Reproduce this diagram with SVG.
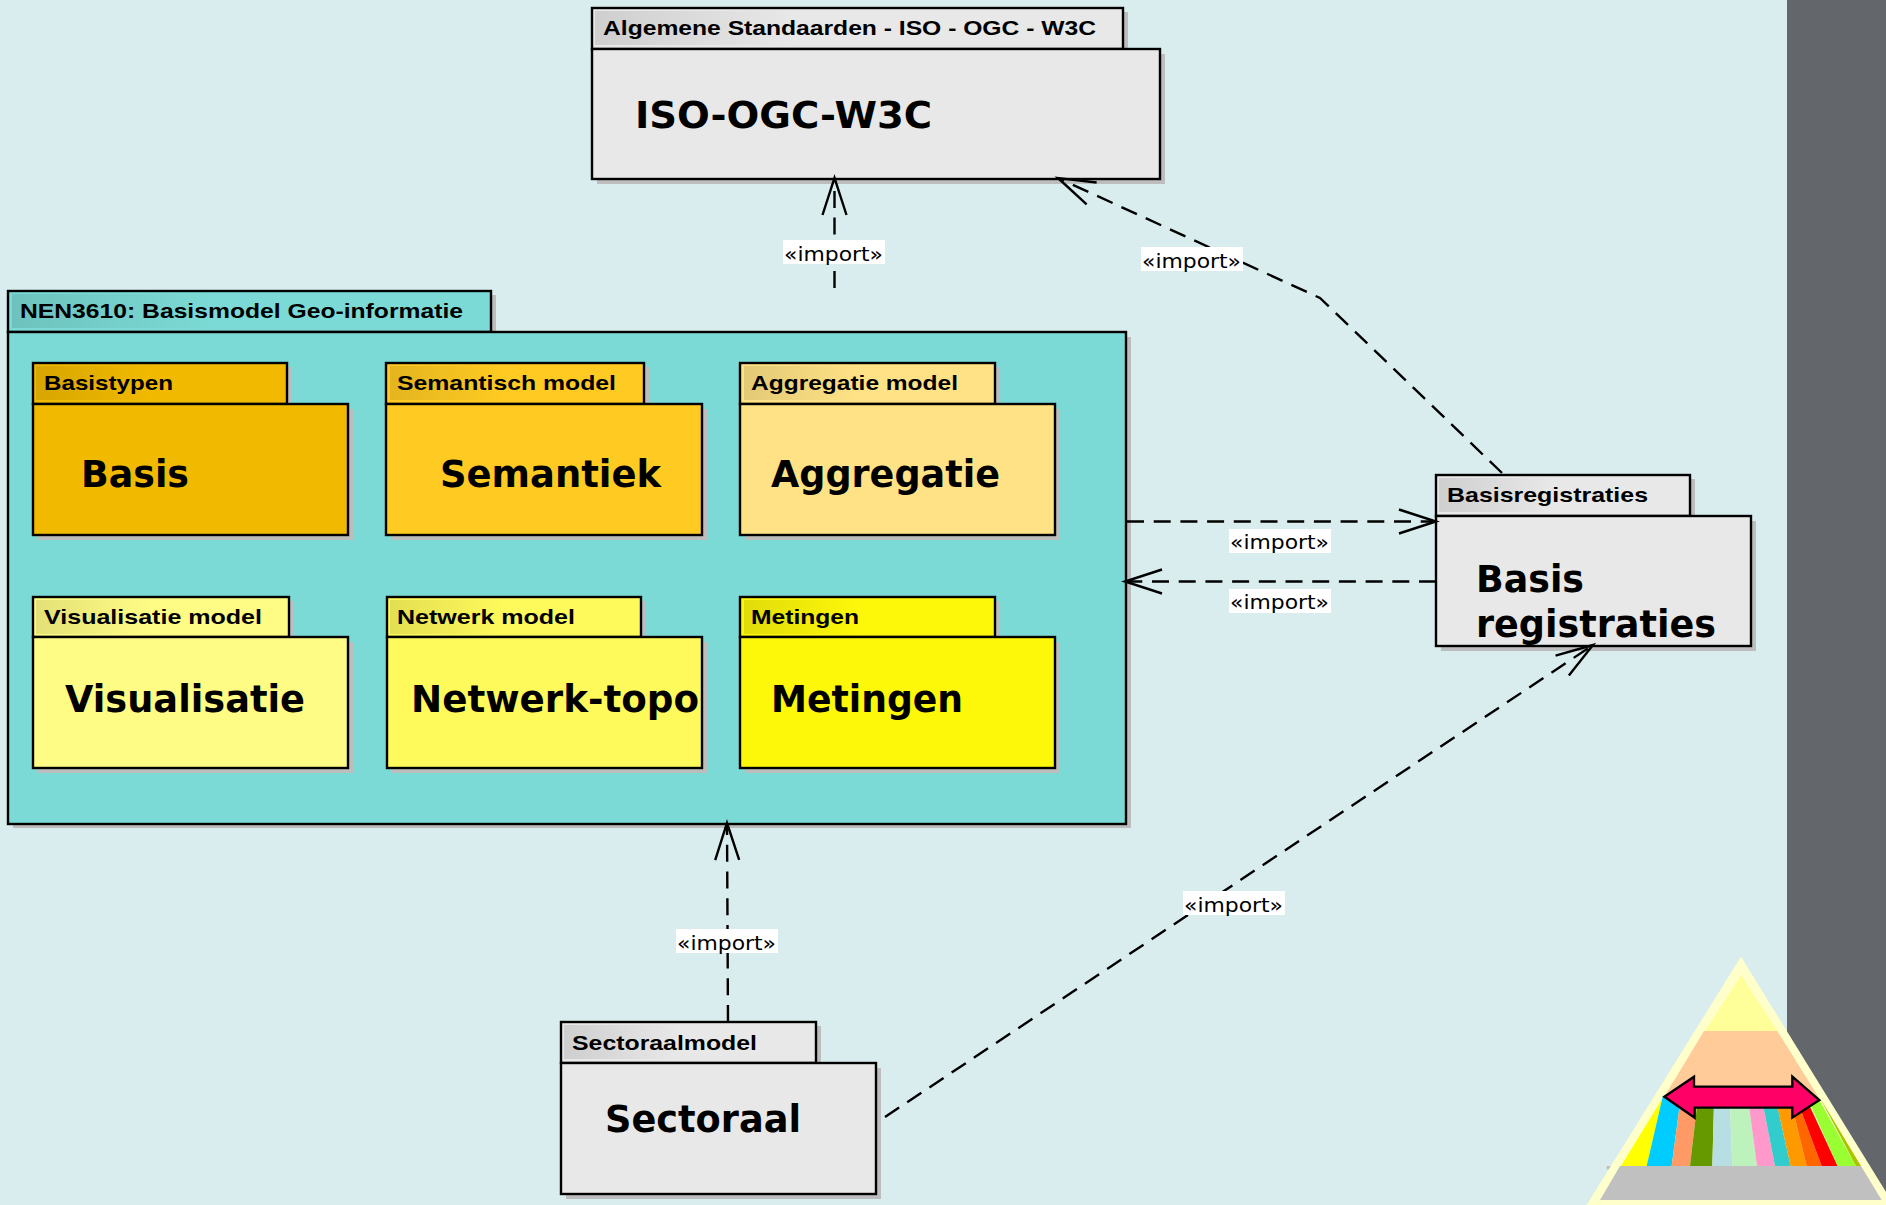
<svg xmlns="http://www.w3.org/2000/svg" width="1886" height="1205" viewBox="0 0 1886 1205">
<style>
.box{stroke:#000;stroke-width:2.4}
.sh{fill:#bdbdbd}
.tab{font:bold 21px "Liberation Sans",Arial,sans-serif;fill:#000}
.big{font:bold 37px "DejaVu Sans",sans-serif;fill:#000}
.con{fill:none;stroke:#000;stroke-width:2.4;stroke-dasharray:17 9.7}
.lb{fill:#fff}
.lt{font:20px "DejaVu Sans",sans-serif;fill:#000}
.hd{fill:url(#hd)}
.c-gray{fill:#e8e8e8}
</style>
<defs>
<linearGradient id="hd"><stop offset="0" stop-color="#000" stop-opacity=".11"/><stop offset="1" stop-color="#000" stop-opacity="0"/></linearGradient>
<marker id="open" markerUnits="userSpaceOnUse" markerWidth="44" markerHeight="30" refX="40" refY="15" orient="auto" overflow="visible">
<path d="M3 3 L40 15 L3 27" fill="none" stroke="#000" stroke-width="2.4"/>
</marker>
</defs>
<rect width="1886" height="1205" fill="#daedee"/>
<rect x="1787" y="0" width="99" height="1205" fill="#63676b"/>

<g id="nen3610">
<rect class="sh" x="13" y="295" width="483" height="41"/><rect class="sh" x="13" y="337" width="1118" height="491"/>
<rect class="box" x="8" y="291" width="483" height="41" fill="#7bdad5"/>
<rect class="box" x="8" y="332" width="1118" height="492" fill="#7bdad5"/>
<rect class="hd" x="12" y="294" width="200" height="34"/>
<text class="tab" x="20" y="318" textLength="443" lengthAdjust="spacingAndGlyphs">NEN3610: Basismodel Geo-informatie</text>
</g>

<g id="basis">
<rect class="sh" x="38" y="367" width="254" height="41"/><rect class="sh" x="38" y="409" width="315" height="131"/>
<rect class="box" x="33" y="363" width="254" height="41" fill="#f1ba00"/>
<rect class="box" x="33" y="404" width="315" height="131" fill="#f1ba00"/>
<rect class="hd" x="36" y="366" width="115" height="34"/>
<text class="tab" x="44" y="390" textLength="129" lengthAdjust="spacingAndGlyphs">Basistypen</text>
<text class="big" x="81" y="487" textLength="108" lengthAdjust="spacingAndGlyphs">Basis</text>
</g>

<g id="semantiek">
<rect class="sh" x="391" y="367" width="258" height="41"/><rect class="sh" x="391" y="409" width="316" height="131"/>
<rect class="box" x="386" y="363" width="258" height="41" fill="#ffcb22"/>
<rect class="box" x="386" y="404" width="316" height="131" fill="#ffcb22"/>
<rect class="hd" x="390" y="366" width="115" height="34"/>
<text class="tab" x="397" y="390" textLength="219" lengthAdjust="spacingAndGlyphs">Semantisch model</text>
<text class="big" x="440" y="487" textLength="221" lengthAdjust="spacingAndGlyphs">Semantiek</text>
</g>

<g id="aggregatie">
<rect class="sh" x="745" y="367" width="255" height="41"/><rect class="sh" x="745" y="409" width="315" height="131"/>
<rect class="box" x="740" y="363" width="255" height="41" fill="#ffe285"/>
<rect class="box" x="740" y="404" width="315" height="131" fill="#ffe285"/>
<rect class="hd" x="744" y="366" width="115" height="34"/>
<text class="tab" x="751" y="390" textLength="207" lengthAdjust="spacingAndGlyphs">Aggregatie model</text>
<text class="big" x="771" y="487" textLength="229" lengthAdjust="spacingAndGlyphs">Aggregatie</text>
</g>

<g id="visualisatie">
<rect class="sh" x="38" y="601" width="256" height="41"/><rect class="sh" x="38" y="642" width="315" height="131"/>
<rect class="box" x="33" y="597" width="256" height="40" fill="#fffc85"/>
<rect class="box" x="33" y="637" width="315" height="131" fill="#fffc85"/>
<rect class="hd" x="36" y="600" width="115" height="34"/>
<text class="tab" x="44" y="624" textLength="218" lengthAdjust="spacingAndGlyphs">Visualisatie model</text>
<text class="big" x="65" y="712" textLength="240" lengthAdjust="spacingAndGlyphs">Visualisatie</text>
</g>

<g id="netwerk">
<rect class="sh" x="392" y="601" width="254" height="41"/><rect class="sh" x="392" y="642" width="315" height="131"/>
<rect class="box" x="387" y="597" width="254" height="40" fill="#fffa5b"/>
<rect class="box" x="387" y="637" width="315" height="131" fill="#fffa5b"/>
<rect class="hd" x="390" y="600" width="115" height="34"/>
<text class="tab" x="397" y="624" textLength="178" lengthAdjust="spacingAndGlyphs">Netwerk model</text>
<text class="big" x="411" y="712" textLength="288" lengthAdjust="spacingAndGlyphs">Netwerk-topo</text>
</g>

<g id="metingen">
<rect class="sh" x="745" y="601" width="255" height="41"/><rect class="sh" x="745" y="642" width="315" height="131"/>
<rect class="box" x="740" y="597" width="255" height="40" fill="#fdf70a"/>
<rect class="box" x="740" y="637" width="315" height="131" fill="#fdf70a"/>
<rect class="hd" x="744" y="600" width="115" height="34"/>
<text class="tab" x="751" y="624" textLength="108" lengthAdjust="spacingAndGlyphs">Metingen</text>
<text class="big" x="771" y="712" textLength="192" lengthAdjust="spacingAndGlyphs">Metingen</text>
</g>

<g id="iso">
<rect class="sh" x="597" y="12" width="531" height="41"/><rect class="sh" x="597" y="54" width="568" height="130"/>
<rect class="box c-gray" x="592" y="8" width="531" height="41"/>
<rect class="box c-gray" x="592" y="49" width="568" height="130"/>
<rect class="hd" x="595" y="11" width="200" height="34"/>
<text class="tab" x="603" y="35" textLength="493" lengthAdjust="spacingAndGlyphs">Algemene Standaarden - ISO - OGC - W3C</text>
<text class="big" x="635" y="128" textLength="297" lengthAdjust="spacingAndGlyphs">ISO-OGC-W3C</text>
</g>

<g id="basisregistraties">
<rect class="sh" x="1441" y="479" width="254" height="41"/><rect class="sh" x="1441" y="521" width="315" height="130"/>
<rect class="box c-gray" x="1436" y="475" width="254" height="41"/>
<rect class="box c-gray" x="1436" y="516" width="315" height="130"/>
<rect class="hd" x="1439" y="478" width="115" height="34"/>
<text class="tab" x="1447" y="502" textLength="201" lengthAdjust="spacingAndGlyphs">Basisregistraties</text>
<text class="big" x="1476" y="592" textLength="108" lengthAdjust="spacingAndGlyphs">Basis</text>
<text class="big" x="1476" y="637" textLength="240" lengthAdjust="spacingAndGlyphs">registraties</text>
</g>

<g id="sectoraal">
<rect class="sh" x="566" y="1026" width="255" height="41"/><rect class="sh" x="566" y="1068" width="315" height="131"/>
<rect class="box c-gray" x="561" y="1022" width="255" height="41"/>
<rect class="box c-gray" x="561" y="1063" width="315" height="131"/>
<rect class="hd" x="564" y="1025" width="115" height="34"/>
<text class="tab" x="572" y="1050" textLength="185" lengthAdjust="spacingAndGlyphs">Sectoraalmodel</text>
<text class="big" x="605" y="1132" textLength="196" lengthAdjust="spacingAndGlyphs">Sectoraal</text>
</g>

<g id="connectors">
<path class="con" d="M834.5 288 L834.5 178" marker-end="url(#open)"/>
<path class="con" d="M1502 473 L1320 298 L1058 178" marker-end="url(#open)"/>
<path class="con" d="M1127 521.5 L1436 521.5" marker-end="url(#open)"/>
<path class="con" d="M1436 581.5 L1125 581.5" marker-end="url(#open)"/>
<path class="con" d="M728 1022 L727 823" marker-end="url(#open)"/>
<path class="con" d="M885 1117 L1593 645" marker-end="url(#open)"/>
<rect class="lb" x="783" y="240" width="102" height="24"/><text class="lt" x="784" y="261" textLength="99" lengthAdjust="spacingAndGlyphs">«import»</text>
<rect class="lb" x="1141" y="247" width="102" height="24"/><text class="lt" x="1142" y="268" textLength="99" lengthAdjust="spacingAndGlyphs">«import»</text>
<rect class="lb" x="1229" y="529" width="102" height="24"/><text class="lt" x="1230" y="549" textLength="99" lengthAdjust="spacingAndGlyphs">«import»</text>
<rect class="lb" x="1229" y="589" width="102" height="24"/><text class="lt" x="1230" y="609" textLength="99" lengthAdjust="spacingAndGlyphs">«import»</text>
<rect class="lb" x="676" y="929" width="102" height="24"/><text class="lt" x="677" y="950" textLength="99" lengthAdjust="spacingAndGlyphs">«import»</text>
<rect class="lb" x="1183" y="891" width="102" height="24"/><text class="lt" x="1184" y="912" textLength="99" lengthAdjust="spacingAndGlyphs">«import»</text>
</g>

<g id="emblem" transform="translate(1560 930) scale(.33333)">
<rect x="140" y="708" width="60" height="10" fill="#c0c0c0"/>
<polygon points="543,80 80,825 1002,825" fill="#ffffcc"/>
<polygon points="543,135 435,303 652,303" fill="#ffff99"/>
<polygon points="432,303 652,303 778,505 310,505" fill="#ffcc99"/>
<polygon points="307,505 183,708 260,708" fill="#ffff00"/>
<polygon points="308,500 260,708 335,708 360,520" fill="#00ccff"/>
<polygon points="360,520 335,708 390,708 412,520" fill="#ff9966"/>
<polygon points="412,520 390,708 457,708 462,520" fill="#669900"/>
<polygon points="462,520 457,708 517,708 510,520" fill="#b7dfe3"/>
<polygon points="510,520 517,708 591,708 566,520" fill="#bdf2bd"/>
<polygon points="566,520 591,708 645,708 608,520" fill="#ff99cc"/>
<polygon points="608,520 645,708 692,708 650,520" fill="#33cccc"/>
<polygon points="650,520 692,708 740,708 694,520" fill="#ff9900"/>
<polygon points="694,520 740,708 785,708 715,520" fill="#ff6600"/>
<polygon points="715,520 785,708 833,708 745,520" fill="#ff0000"/>
<polygon points="745,510 833,708 888,708 778,510" fill="#99ff33"/>
<polygon points="778,500 888,708 903,708" fill="#aac400"/>
<polygon points="180,708 903,708 965,810 120,810" fill="#c0c0c0"/>
<polygon points="313,500 402,440 402,470 697,470 697,440 778,510 697,563 697,533 404,533 404,563" fill="#ff0066" stroke="#000" stroke-width="7"/>
</g>
</svg>
